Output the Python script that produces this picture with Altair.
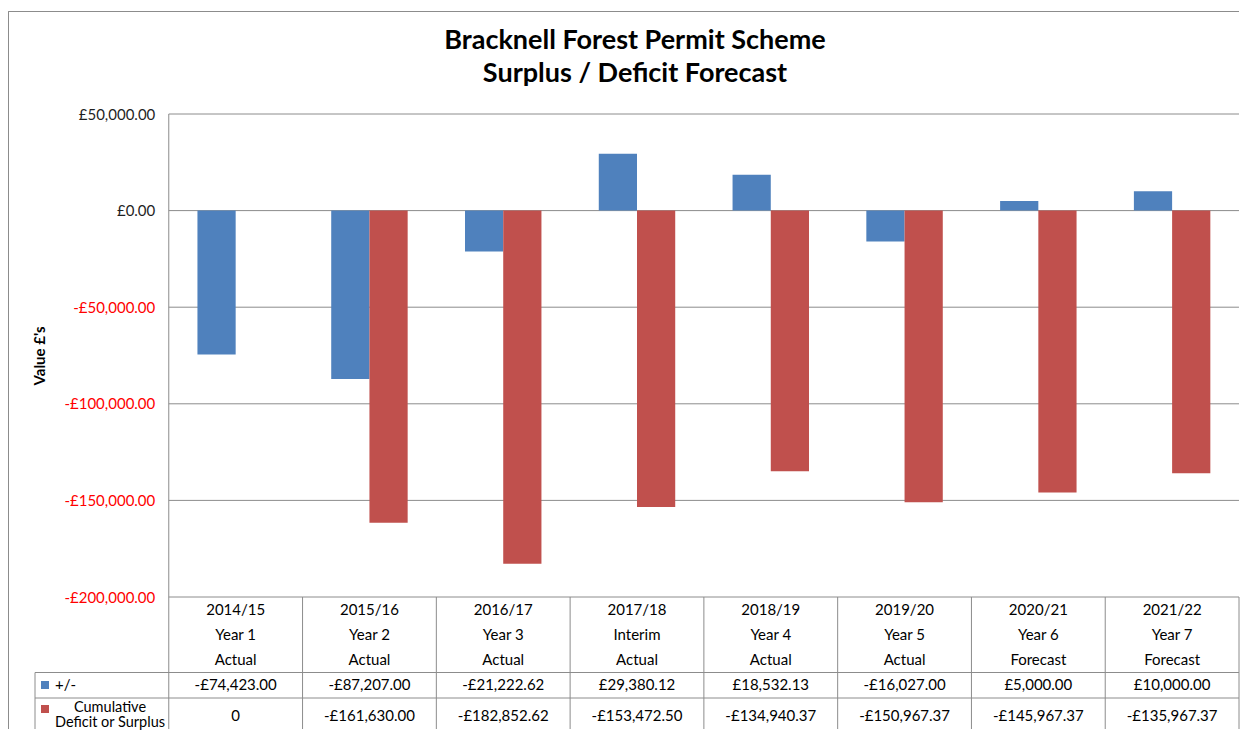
import altair as alt
import pandas as pd

# ---------------- data ----------------
years = ["2014/15", "2015/16", "2016/17", "2017/18", "2018/19", "2019/20", "2020/21", "2021/22"]
stages = ["Year 1", "Year 2", "Year 3", "Interim", "Year 4", "Year 5", "Year 6", "Year 7"]
status = ["Actual", "Actual", "Actual", "Actual", "Actual", "Actual", "Forecast", "Forecast"]
plus_minus = [-74423.00, -87207.00, -21222.62, 29380.12, 18532.13, -16027.00, 5000.00, 10000.00]
cumulative = [0, -161630.00, -182852.62, -153472.50, -134940.37, -150967.37, -145967.37, -135967.37]
series = ["+/-", "Cumulative Deficit or Surplus"]
series_colors = ["#4F81BD", "#C0504D"]
y_ticks = [50000, 0, -50000, -100000, -150000, -200000]
title_lines = ["Bracknell Forest Permit Scheme", "Surplus / Deficit Forecast"]
y_title = "Value £'s"


def money(v):
    s = f"£{abs(v):,.2f}"
    return "-" + s if v < 0 else s


pm_text = [money(v) for v in plus_minus]
cum_text = ["0" if v == 0 else money(v) for v in cumulative]

# ---------------- layout ----------------
FONT = "Lato"
FS = 15
LINE = "#8C8C8C"
PLOT_W = 1204
PLOT_H = 615
TOP = 114  # screen y of the plot top, used to express table rows
Y_MAX = 50000
PX_PER_UNIT = 483 / 250000


def yv(screen_y):
    return Y_MAX - (screen_y - TOP) / PX_PER_UNIT


Y_MIN = Y_MAX - PLOT_H / PX_PER_UNIT
LEG = "legend"
x_domain = [LEG] + years
band = PLOT_W / len(x_domain)

xs = alt.Scale(domain=x_domain, paddingInner=0, paddingOuter=0)
ys = alt.Scale(domain=[Y_MIN, Y_MAX], nice=False, zero=False)

yaxis = alt.Axis(
    values=y_ticks, offset=-band, domain=False, ticks=False, grid=False,
    labelExpr="(datum.value < 0 ? '-' : '') + '£' + format(abs(datum.value), ',.2f')",
    labelColor={"condition": {"test": "datum.value < 0", "value": "#FF0000"}, "value": "#1F1F1F"},
    labelFont=FONT, labelFontSize=FS, labelPadding=14,
    title=y_title, titleFont=FONT, titleFontSize=15, titleFontWeight="bold",
    titleColor="#000000", titleAngle=270, titleX=-129, titleY=241.5,
    titleBaseline="middle", titleAlign="center",
)


def X(field, pos=None):
    if pos is None:
        return alt.X(field, type="nominal", scale=xs, axis=None)
    return alt.X(field, type="nominal", scale=xs, axis=None, bandPosition=pos)


def Y(field):
    return alt.Y(field, type="quantitative", scale=ys, axis=yaxis)


color = alt.Color("series:N", scale=alt.Scale(domain=series, range=series_colors), legend=None)

# bars
bar_df = pd.DataFrame({
    "col": years * 2,
    "series": [series[0]] * len(years) + [series[1]] * len(years),
    "value": plus_minus + cumulative,
})
bars = alt.Chart(bar_df).mark_bar().encode(
    x=X("col"),
    xOffset=alt.XOffset("series:N", scale=alt.Scale(domain=series, paddingOuter=0.75, paddingInner=0)),
    y=Y("value"),
    color=color,
)

# gridlines
grid_df = pd.DataFrame({"y": y_ticks, "x0": years[0], "x1": years[-1]})
grid = alt.Chart(grid_df).mark_rule(color=LINE, strokeWidth=1).encode(
    x=X("x0", 0), x2=alt.X2("x1", bandPosition=1), y=Y("y")
)

# table horizontal lines
row_lines = [672.5, 698]
tline_df = pd.DataFrame({"y": [yv(p) for p in row_lines], "x0": LEG, "x1": years[-1]})
tlines = alt.Chart(tline_df).mark_rule(color=LINE, strokeWidth=1).encode(
    x=X("x0", 0), x2=alt.X2("x1", bandPosition=1), y=Y("y")
)

# table vertical lines
vline_df = pd.DataFrame({"col": years, "y0": [Y_MAX] + [y_ticks[-1]] * (len(years) - 1), "y1": Y_MIN})
vlines = alt.Chart(vline_df).mark_rule(color=LINE, strokeWidth=1).encode(
    x=X("col", 0), y=Y("y0"), y2=alt.Y2("y1")
)
rline_df = pd.DataFrame({"col": [years[-1]], "y0": [y_ticks[-1]], "y1": [Y_MIN]})
rline = alt.Chart(rline_df).mark_rule(color=LINE, strokeWidth=1).encode(
    x=X("col", 1), y=Y("y0"), y2=alt.Y2("y1")
)
lline_df = pd.DataFrame({"col": [LEG], "y0": [yv(row_lines[0])], "y1": [Y_MIN]})
lline = alt.Chart(lline_df).mark_rule(color=LINE, strokeWidth=1).encode(
    x=X("col", 0), y=Y("y0"), y2=alt.Y2("y1")
)

# table text
rows = []
for i, yr in enumerate(years):
    rows += [
        (yr, yv(610), yr),
        (yr, yv(635), stages[i]),
        (yr, yv(660), status[i]),
        (yr, yv(685), pm_text[i]),
        (yr, yv(716), cum_text[i]),
    ]
table_df = pd.DataFrame(rows, columns=["col", "y", "text"])
table_text = alt.Chart(table_df).mark_text(font=FONT, fontSize=FS, color="#000000", baseline="middle").encode(
    x=X("col"), y=Y("y"), text="text:N"
)

# legend column
leg1_df = pd.DataFrame({"col": [LEG], "y": [yv(685)], "text": [series[0]]})
leg1 = alt.Chart(leg1_df).mark_text(font=FONT, fontSize=FS, color="#000000", align="left", baseline="middle", dx=20).encode(
    x=X("col", 0), y=Y("y"), text="text:N"
)
leg2_df = pd.DataFrame({"col": LEG, "y": [yv(708), yv(723)], "text": series[1].split(" ", 1)})
leg2 = alt.Chart(leg2_df).mark_text(font=FONT, fontSize=14.5, color="#000000", align="center", baseline="middle", dx=75).encode(
    x=X("col", 0), y=Y("y"), text="text:N"
)
sw_df = pd.DataFrame({"col": LEG, "series": series, "y": [yv(685), yv(709)]})
swatches = alt.Chart(sw_df).mark_square(size=64, xOffset=10, opacity=1).encode(
    x=X("col", 0), y=Y("y"), color=color
)

# outer frame (top + left edges)
frame_top = alt.Chart(sw_df).mark_rule(color=LINE, strokeWidth=1).encode(
    x=alt.value(-26.5), x2=alt.value(PLOT_W), y=alt.value(-102.5)
)
frame_left = alt.Chart(sw_df).mark_rule(color=LINE, strokeWidth=1).encode(
    x=alt.value(-26.5), y=alt.value(-102.5), y2=alt.value(PLOT_H)
)

chart = alt.layer(
    grid, bars, tlines, vlines, rline, lline, table_text, leg1, leg2, swatches, frame_top, frame_left
).properties(
    width=PLOT_W,
    height=PLOT_H,
    padding={"left": 0, "top": 3, "right": 0, "bottom": 0},
    background="#FFFFFF",
    title=alt.Title(
        text=title_lines, font=FONT, fontSize=27, fontWeight="bold", color="#000000",
        anchor="middle", frame="group", offset=-77, baseline="top", lineHeight=33, dx=-2,
    ),
).configure_view(stroke=None)

chart.save("out.html", embed_options={"renderer": "svg", "actions": False})
